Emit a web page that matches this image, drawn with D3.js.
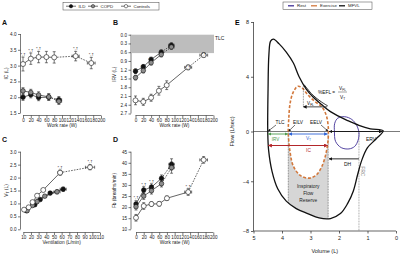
<!DOCTYPE html>
<html>
<head>
<meta charset="utf-8">
<script src="https://cdn.jsdelivr.net/npm/d3@7"></script>
<style>
  body { margin: 0; background: #fff; }
  svg { display: block; font-family: "Liberation Sans", Arial, sans-serif; }
</style>
</head>
<body>
<svg id="chart" width="400" height="257"></svg>
<script>
/* ---------- data: panels A-D ---------- */
// work rates (W)
var workDisease = [0, 20, 40, 66, 92];
var workControls = [0, 20, 40, 60, 80, 135, 175];

// A: inspiratory capacity (L)
var icILD = [2.0, 2.08, 1.99, 2.0, 1.92];
var icCOPD = [2.2, 2.15, 2.07, 2.01, 1.87];
var icControls = [3.05, 3.22, 3.27, 3.27, 3.26, 3.3, 3.08];
var icErrDisease = [0.1, 0.1, 0.1, 0.1, 0.1];
var icErrControls = [0.22, 0.18, 0.18, 0.18, 0.18, 0.15, 0.18];

// B: inspiratory reserve volume (L)
var irvILD = [1.25, 1.1, 0.85, 0.6, 0.36];
var irvCOPD = [1.47, 1.23, 0.96, 0.68, 0.42];
var irvControls = [2.25, 2.3, 2.16, 1.92, 1.73, 1.12, 0.7];
var irvErrDisease = [0.08, 0.08, 0.08, 0.08, 0.08];
var irvErrControls = [0.15, 0.12, 0.12, 0.15, 0.15, 0.08, 0.08];

// C: tidal volume vs ventilation
var veILD = [14, 25, 32, 45, 62];
var vtILD = [0.72, 0.95, 1.15, 1.4, 1.55];
var veCOPD = [15, 22, 28, 38, 54];
var vtCOPD = [0.72, 0.92, 1.07, 1.28, 1.45];
var veControls = [11, 17, 22, 28, 36, 58, 97];
var vtControls = [0.76, 0.85, 1.05, 1.3, 1.52, 2.19, 2.4];
var vtErr = [0.05, 0.05, 0.05, 0.05, 0.08];
var vtErrControls = [0.05, 0.05, 0.05, 0.05, 0.05, 0.1, 0.1];

// D: breathing frequency (breaths/min)
var fbILD = [21.4, 27.7, 29.0, 33.0, 39.3];
var fbCOPD = [20.2, 25.0, 27.4, 30.6, 37.8];
var fbControls = [15.2, 20.5, 21.4, 21.5, 24.0, 26.8, 41.3];
var fbErrDisease = [1.5, 1.5, 1.5, 1.5, 2.5];
var fbErrControls = [1.5, 1.5, 1, 1, 1, 1.5, 1.5];

var workTicks = [0, 20, 40, 60, 80, 100, 120, 140, 160, 180, 200];

/* ---------- data: panel E (volume L, flow L/sec) ---------- */
var mfvlCurve = [[4.5, 0], [4.49, 3], [4.46, 5.6], [4.4, 6.6], [4.3, 6.75], [4.1, 6.4], [3.85, 5.8],
  [3.6, 5.0], [3.4, 4.0], [3.15, 3.1], [2.9, 2.5], [2.6, 1.95], [2.3, 1.45], [2.0, 1.1], [1.7, 0.8],
  [1.3, 0.45], [0.9, 0.2], [0.45, 0.05], [0.7, -0.6], [1.0, -1.3], [1.2, -2.3], [1.35, -3.5],
  [1.5, -4.8], [1.7, -5.8], [1.95, -6.6], [2.3, -7.0], [2.7, -6.95], [3.1, -6.6], [3.5, -6.2],
  [3.85, -5.6], [4.15, -4.6], [4.35, -3.2], [4.47, -1.5]];
var exerciseLoop = [[3.78, 0], [3.76, 1.0], [3.72, 2.0], [3.62, 2.8], [3.45, 3.3], [3.3, 3.2],
  [3.1, 2.7], [2.85, 2.2], [2.6, 1.8], [2.45, 1.2], [2.38, 0.4], [2.38, -0.6], [2.45, -1.7],
  [2.6, -2.8], [2.8, -3.5], [3.05, -3.75], [3.35, -3.55], [3.6, -2.8], [3.72, -1.6]];
var restLoop = [[2.16, 0], [2.15, 0.6], [2.04, 0.98], [1.8, 1.08], [1.55, 0.88], [1.38, 0.45],
  [1.3, -0.1], [1.33, -0.7], [1.45, -1.2], [1.65, -1.4], [1.92, -1.3], [2.12, -0.8]];
var vflSegment = [[3.25, 3.3], [2.95, 2.55], [2.65, 2.05], [2.42, 1.75]];
var volTicks = [5, 4, 3, 2, 1, 0];
var flowTicks = [-8, -4, 0, 4, 8];
var tlcVol = 4.5, eilvVol = 3.78, eelvVol = 2.38, frcVol = 1.3, rvVol = 0.45;

/* ---------- setup ---------- */
var svg = d3.select('#chart');
var tickFont = 4.6;

var defs = svg.append('defs');
function arrowMarker(id, color) {
    defs.append('marker')
        .attr('id', id)
        .attr('viewBox', '0 0 10 10')
        .attr('refX', 9).attr('refY', 5)
        .attr('markerWidth', 4).attr('markerHeight', 4)
        .attr('orient', 'auto-start-reverse')
        .append('path')
            .attr('d', 'M0,0 L10,5 L0,10 z')
            .attr('fill', color);
}
arrowMarker('arr-black', '#111');
arrowMarker('arr-green', '#4c9a4c');
arrowMarker('arr-blue', '#2d63d6');
arrowMarker('arr-red', '#b3262a');

/* ---------- panels A-D ---------- */
function drawPanel(cfg) {
    var g = svg.append('g');
    var x = d3.scaleLinear().domain(cfg.xDomain).range(cfg.xRange);
    var y = d3.scaleLinear().domain(cfg.yDomain).range(cfg.yRange);

    // y axis (offset a bit to the left, prism style)
    var yAxis = g.append('g')
        .attr('transform', 'translate(' + cfg.yAxisX + ',0)')
        .call(d3.axisLeft(y).tickValues(cfg.yTicks).tickFormat(cfg.yFormat).tickSize(2.5).tickPadding(1.5));
    // x axis
    var xAxis = g.append('g')
        .attr('transform', 'translate(0,' + cfg.xAxisY + ')')
        .call(d3.axisBottom(x).tickValues(cfg.xTicks).tickFormat(d3.format('d')).tickSize(2.5).tickPadding(1));
    [xAxis, yAxis].forEach(function (a) {
        a.selectAll('path').attr('stroke', '#222').attr('stroke-width', 0.6);
        a.selectAll('line').attr('stroke', '#222').attr('stroke-width', 0.6);
        a.selectAll('text').attr('font-size', tickFont).attr('fill', '#222');
    });
    xAxis.select('.domain').attr('d', 'M' + x(cfg.xTicks[0]) + ',0H' + x(cfg.xTicks[cfg.xTicks.length - 1]));
    yAxis.select('.domain').attr('d', 'M0,' + y(cfg.yTicks[0]) + 'V' + y(cfg.yTicks[cfg.yTicks.length - 1]));

    // optional shaded band (TLC)
    if (cfg.band) {
        g.append('rect')
            .attr('x', cfg.yAxisX + 0.5)
            .attr('y', Math.min(y(cfg.band[0]), y(cfg.band[1])))
            .attr('width', x(200) - cfg.yAxisX)
            .attr('height', Math.abs(y(cfg.band[1]) - y(cfg.band[0])))
            .attr('fill', '#bdbdbd');
        g.append('text').attr('x', x(200) + 1.5).attr('y', y(cfg.band[0]) + 5)
            .attr('font-size', 5).attr('fill', '#222').text('TLC');
    }

    // axis titles
    g.append('text')
        .attr('transform', 'translate(' + cfg.yLabelX + ',' + ((cfg.yRange[0] + cfg.yRange[1]) / 2) + ') rotate(-90)')
        .attr('text-anchor', 'middle').attr('font-size', 4.8).attr('fill', '#222')
        .html(cfg.yLabel);
    g.append('text')
        .attr('x', (cfg.xRange[0] + cfg.xRange[1]) / 2).attr('y', cfg.xAxisY + 11.5)
        .attr('text-anchor', 'middle').attr('font-size', 4.8).attr('fill', '#222')
        .text(cfg.xLabel);
    g.append('text')
        .attr('x', cfg.letterX).attr('y', cfg.letterY)
        .attr('font-size', 7).attr('font-weight', 'bold').attr('fill', '#111')
        .text(cfg.letter);

    // series
    cfg.series.forEach(function (s) {
        var pts = s.xs.map(function (v, i) {
            return {x: v, y: s.ys[i], e: s.err[i], xe: (s.xerr && s.xerr[i]) || 0, i: i};
        });
        // error bars
        pts.forEach(function (p) {
            g.append('line')
                .attr('x1', x(p.x)).attr('x2', x(p.x))
                .attr('y1', y(p.y - p.e)).attr('y2', y(p.y + p.e))
                .attr('stroke', '#222').attr('stroke-width', 0.6);
            [p.y - p.e, p.y + p.e].forEach(function (v) {
                g.append('line')
                    .attr('x1', x(p.x) - 1.5).attr('x2', x(p.x) + 1.5)
                    .attr('y1', y(v)).attr('y2', y(v))
                    .attr('stroke', '#222').attr('stroke-width', 0.6);
            });
            if (p.xe) {
                g.append('line')
                    .attr('x1', x(p.x - p.xe)).attr('x2', x(p.x + p.xe))
                    .attr('y1', y(p.y)).attr('y2', y(p.y))
                    .attr('stroke', '#222').attr('stroke-width', 0.6);
                [p.x - p.xe, p.x + p.xe].forEach(function (v) {
                    g.append('line')
                        .attr('x1', x(v)).attr('x2', x(v))
                        .attr('y1', y(p.y) - 1.5).attr('y2', y(p.y) + 1.5)
                        .attr('stroke', '#222').attr('stroke-width', 0.6);
                });
            }
        });
        // connecting lines, dashed from s.dashFrom on
        for (var i = 0; i < pts.length - 1; i++) {
            g.append('line')
                .attr('x1', x(pts[i].x)).attr('y1', y(pts[i].y))
                .attr('x2', x(pts[i + 1].x)).attr('y2', y(pts[i + 1].y))
                .attr('stroke', '#222').attr('stroke-width', 0.7)
                .attr('stroke-dasharray', i >= s.dashFrom ? '1.6,1.2' : null);
        }
        // markers
        g.selectAll(null).data(pts).enter()
            .append('circle')
                .attr('cx', function (d) { return x(d.x); })
                .attr('cy', function (d) { return y(d.y); })
                .attr('r', s.fill === colCtl ? 2.5 : 2.3)
                .attr('fill', s.fill)
                .attr('stroke', '#111').attr('stroke-width', 0.6);
        // significance marks
        (s.stars || []).forEach(function (i) {
            var p = pts[i];
            var top = cfg.yDomain[0] < cfg.yDomain[1] ? y(p.y + p.e) : y(p.y - p.e);
            g.append('text')
                .attr('x', x(p.x)).attr('y', top - 1.2)
                .attr('text-anchor', 'middle').attr('font-size', 4.2).attr('fill', '#222')
                .text('*,\u2020');
        });
    });
}

var colILD = '#111', colCOPD = '#8c8c8c', colCtl = '#fff';

drawPanel({
    letter: 'A', letterX: 2, letterY: 25,
    xDomain: [0, 200], xRange: [23, 101], xTicks: workTicks, xAxisY: 115.5,
    yDomain: [1.5, 4.0], yRange: [113, 34], yTicks: [1.5, 2.0, 2.5, 3.0, 3.5, 4.0],
    yFormat: d3.format('.1f'), yAxisX: 20.5, yLabelX: 8, yLabel: 'IC (L)', xLabel: 'Work rate (W)',
    series: [
        {xs: workDisease, ys: icILD, err: icErrDisease, xerr: [0, 0, 0, 0, 7], fill: colILD, dashFrom: 3},
        {xs: workDisease, ys: icCOPD, err: icErrDisease, xerr: [0, 0, 0, 0, 7], fill: colCOPD, dashFrom: 3},
        {xs: workControls, ys: icControls, err: icErrControls, xerr: [0, 0, 0, 0, 0, 9, 10], fill: colCtl, dashFrom: 4, stars: [0, 1, 2, 5, 6]}
    ]
});

drawPanel({
    letter: 'B', letterX: 113, letterY: 25,
    xDomain: [0, 200], xRange: [135.5, 213.5], xTicks: workTicks, xAxisY: 115.5,
    yDomain: [0, 2.7], yRange: [34.7, 113.5], yTicks: [0, 0.3, 0.6, 0.9, 1.2, 1.5, 1.8, 2.1, 2.4, 2.7],
    yFormat: d3.format('.1f'), yAxisX: 131, yLabelX: 116, yLabel: 'IRV (L)', xLabel: 'Work rate (W)',
    band: [0, 0.63],
    series: [
        {xs: workDisease, ys: irvILD, err: irvErrDisease, xerr: [0, 0, 0, 0, 7], fill: colILD, dashFrom: 3, stars: [0, 1, 2]},
        {xs: workDisease, ys: irvCOPD, err: irvErrDisease, xerr: [0, 0, 0, 0, 7], fill: colCOPD, dashFrom: 3},
        {xs: workControls, ys: irvControls, err: irvErrControls, xerr: [0, 0, 0, 0, 0, 9, 10], fill: colCtl, dashFrom: 5, stars: [5, 6]}
    ]
});

drawPanel({
    letter: 'C', letterX: 2, letterY: 142,
    xDomain: [10, 110], xRange: [23.3, 100], xTicks: [10, 20, 30, 40, 50, 60, 70, 80, 90, 100, 110], xAxisY: 232.5,
    yDomain: [0, 3.0], yRange: [229.3, 151.7], yTicks: [0, 0.5, 1.0, 1.5, 2.0, 2.5, 3.0],
    yFormat: d3.format('.1f'), yAxisX: 20.5, yLabelX: 8, yLabel: 'V<tspan font-size="3.4" dy="1">T</tspan><tspan dy="-1"> (L)</tspan>',
    xLabel: 'Ventilation (L/min)',
    series: [
        {xs: veILD, ys: vtILD, err: vtErr, xerr: [0, 0, 0, 0, 4], fill: colILD, dashFrom: 9},
        {xs: veCOPD, ys: vtCOPD, err: vtErr, xerr: [0, 0, 0, 0, 4], fill: colCOPD, dashFrom: 9},
        {xs: veControls, ys: vtControls, err: vtErrControls, xerr: [0, 0, 0, 0, 0, 3, 6], fill: colCtl, dashFrom: 5, stars: [5, 6]}
    ]
});

drawPanel({
    letter: 'D', letterX: 113, letterY: 142,
    xDomain: [0, 200], xRange: [136, 213.3], xTicks: workTicks, xAxisY: 232.5,
    yDomain: [10, 45], yRange: [229.3, 151.7], yTicks: [10, 15, 20, 25, 30, 35, 40, 45],
    yFormat: d3.format('d'), yAxisX: 131, yLabelX: 116, yLabel: 'Fb (breaths/min)', xLabel: 'Work rate (W)',
    series: [
        {xs: workDisease, ys: fbILD, err: fbErrDisease, xerr: [0, 0, 0, 0, 7], fill: colILD, dashFrom: 3, stars: [0, 1, 2]},
        {xs: workDisease, ys: fbCOPD, err: fbErrDisease, xerr: [0, 0, 0, 0, 7], fill: colCOPD, dashFrom: 3},
        {xs: workControls, ys: fbControls, err: fbErrControls, xerr: [0, 0, 0, 0, 0, 9, 10], fill: colCtl, dashFrom: 5, stars: [5]}
    ]
});

// legend for A-D
var leg = svg.append('g');
leg.append('rect').attr('x', 63).attr('y', 2.5).attr('width', 96).attr('height', 7.5)
    .attr('fill', '#fff').attr('stroke', '#444').attr('stroke-width', 0.5);
[{x: 66, label: 'ILD', fill: colILD}, {x: 88, label: 'COPD', fill: colCOPD}, {x: 121, label: 'Controls', fill: colCtl}]
    .forEach(function (it) {
        leg.append('line').attr('x1', it.x).attr('x2', it.x + 10).attr('y1', 6.2).attr('y2', 6.2)
            .attr('stroke', '#111').attr('stroke-width', 0.6);
        leg.append('circle').attr('cx', it.x + 5).attr('cy', 6.2).attr('r', 1.7)
            .attr('fill', it.fill).attr('stroke', '#111').attr('stroke-width', 0.5);
        leg.append('text').attr('x', it.x + 12.5).attr('y', 7.8).attr('font-size', 4.4).attr('fill', '#222').text(it.label);
    });

/* ---------- panel E ---------- */
var ex = d3.scaleLinear().domain([5, 0]).range([253.5, 396]);
var ey = d3.scaleLinear().domain([-8, 0, 8]).range([231, 131.5, 22]);
var gE = svg.append('g');

var loopLine = d3.line()
    .x(function (d) { return ex(d[0]); })
    .y(function (d) { return ey(d[1]); })
    .curve(d3.curveCatmullRomClosed.alpha(0.5));
var openLine = d3.line()
    .x(function (d) { return ex(d[0]); })
    .y(function (d) { return ey(d[1]); })
    .curve(d3.curveCatmullRom.alpha(0.5));

defs.append('clipPath').attr('id', 'mfvl-clip')
    .append('path').attr('d', loopLine(mfvlCurve));

// inspiratory flow reserve (gray)
gE.append('rect')
    .attr('clip-path', 'url(#mfvl-clip)')
    .attr('x', ex(eilvVol)).attr('y', ey(0))
    .attr('width', ex(eelvVol) - ex(eilvVol)).attr('height', ey(-8) - ey(0))
    .attr('fill', '#d6d6d6');
gE.append('path').attr('d', loopLine(exerciseLoop)).attr('fill', '#fff');

// dotted verticals
[eilvVol, eelvVol].forEach(function (v) {
    gE.append('line').attr('clip-path', 'url(#mfvl-clip)')
        .attr('x1', ex(v)).attr('x2', ex(v)).attr('y1', ey(0)).attr('y2', ey(-8))
        .attr('stroke', '#333').attr('stroke-width', 0.6).attr('stroke-dasharray', '0.8,0.8');
});
gE.append('line')
    .attr('x1', ex(frcVol)).attr('x2', ex(frcVol)).attr('y1', ey(0)).attr('y2', ey(-8))
    .attr('stroke', '#555').attr('stroke-width', 0.6).attr('stroke-dasharray', '0.8,0.8');
gE.append('text')
    .attr('transform', 'translate(' + (ex(frcVol) + 2.5) + ',' + ey(-3.2) + ') rotate(90)')
    .attr('text-anchor', 'middle').attr('font-size', 5).attr('fill', '#888').text('FRC');

// axes
var eyAxis = gE.append('g').attr('transform', 'translate(' + ex(5) + ',0)')
    .call(d3.axisLeft(ey).tickValues(flowTicks).tickFormat(d3.format('d')).tickSize(2.5).tickPadding(2));
var exAxis = gE.append('g').attr('transform', 'translate(0,' + ey(-8) + ')')
    .call(d3.axisBottom(ex).tickValues(volTicks).tickFormat(d3.format('d')).tickSize(2.5).tickPadding(2.5));
[eyAxis, exAxis].forEach(function (a) {
    a.selectAll('path,line').attr('stroke', '#222').attr('stroke-width', 0.7);
    a.selectAll('text').attr('font-size', 5.5).attr('fill', '#222');
});
eyAxis.select('.domain').attr('d', 'M0,' + ey(-8) + 'V' + ey(8));
exAxis.select('.domain').attr('d', 'M' + ex(5) + ',0H' + ex(0));
gE.append('line').attr('x1', ex(5)).attr('x2', 400).attr('y1', ey(0)).attr('y2', ey(0))
    .attr('stroke', '#222').attr('stroke-width', 0.6);

gE.append('text').attr('x', 235).attr('y', 25).attr('font-size', 7).attr('font-weight', 'bold').text('E');
gE.append('text').attr('transform', 'translate(234,' + ey(0) + ') rotate(-90)')
    .attr('text-anchor', 'middle').attr('font-size', 5.5).attr('fill', '#222').text('Flow (L/sec)');
gE.append('text').attr('x', ex(2.5)).attr('y', 253)
    .attr('text-anchor', 'middle').attr('font-size', 5.5).attr('fill', '#222').text('Volume (L)');

// loops
gE.append('path').attr('d', loopLine(restLoop))
    .attr('fill', 'none').attr('stroke', '#3f2f96').attr('stroke-width', 0.9);
gE.append('path').attr('d', loopLine(exerciseLoop))
    .attr('fill', 'none').attr('stroke', '#d2783c').attr('stroke-width', 1.6).attr('stroke-dasharray', '3,1.8');
gE.append('path').attr('d', loopLine(mfvlCurve))
    .attr('fill', 'none').attr('stroke', '#111').attr('stroke-width', 1.3);

// flow limited segment
gE.append('path').attr('d', openLine(vflSegment))
    .attr('transform', 'translate(0.8,-1.6)')
    .attr('fill', 'none').attr('stroke', '#111').attr('stroke-width', 0.9);
gE.append('line')
    .attr('x1', ex(3.25)).attr('x2', ex(3.25)).attr('y1', ey(3.3)).attr('y2', ey(1.8))
    .attr('stroke', '#333').attr('stroke-width', 0.6).attr('stroke-dasharray', '0.8,0.8');
gE.append('line')
    .attr('x1', ex(2.42)).attr('x2', ex(3.25)).attr('y1', ey(1.8)).attr('y2', ey(1.8))
    .attr('stroke', '#333').attr('stroke-width', 0.9).attr('marker-end', 'url(#arr-black)');
gE.append('text').attr('x', ex(3.0)).attr('y', ey(1.8) - 1.5).attr('text-anchor', 'middle')
    .attr('font-size', 4.6).html('V<tspan font-size="3.2" dy="1">FL</tspan>');
var efl = gE.append('g').attr('font-size', 4.8).attr('fill', '#111');
efl.append('text').attr('x', 318).attr('y', 93.5).text('%EFL =');
efl.append('text').attr('x', 339).attr('y', 90).html('V<tspan font-size="3.2" dy="1">FL</tspan>');
efl.append('text').attr('x', 340).attr('y', 98.5).html('V<tspan font-size="3.2" dy="1">T</tspan>');
efl.append('line').attr('x1', 338).attr('x2', 347).attr('y1', 92).attr('y2', 92).attr('stroke', '#111').attr('stroke-width', 0.4);

// volume labels with arrows
function arrow(x1, y1, x2, y2, marker, color, both, w) {
    gE.append('line').attr('x1', x1).attr('y1', y1).attr('x2', x2).attr('y2', y2)
        .attr('stroke', color).attr('stroke-width', w || 0.8)
        .attr('marker-end', 'url(#' + marker + ')')
        .attr('marker-start', both ? 'url(#' + marker + ')' : null);
}
function label(x, y, txt, color, size) {
    return gE.append('text').attr('x', x).attr('y', y).attr('text-anchor', 'middle')
        .attr('font-size', size || 4.8).attr('fill', color || '#111').html(txt);
}
label(280, 123.5, 'TLC');
label(298, 123.5, 'EILV');
label(316, 123.5, 'EELV');
arrow(276, 125, ex(tlcVol) + 0.5, ey(0) - 0.5, 'arr-black', '#111', false, 0.6);
arrow(295, 125, ex(eilvVol) + 0.5, ey(0) - 0.5, 'arr-black', '#111', false, 0.6);
arrow(321, 125, ex(eelvVol) - 0.3, ey(0) - 0.5, 'arr-black', '#111', false, 0.6);

arrow(ex(tlcVol) + 0.5, ey(0) + 2.5, ex(eilvVol) - 0.5, ey(0) + 2.5, 'arr-green', '#4c9a4c', true, 0.9);
label(275.5, 140.5, 'IRV', '#4c9a4c', 4.6);
arrow(ex(eilvVol) + 0.8, ey(0) + 2.5, ex(eelvVol) - 0.8, ey(0) + 2.5, 'arr-blue', '#2d63d6', true, 0.9);
label(308.5, 140, 'V<tspan font-size="3.3" dy="1">T</tspan>', '#2d63d6', 4.8);
arrow(ex(tlcVol) + 0.5, ey(0) + 14, ex(eelvVol) - 0.5, ey(0) + 14, 'arr-red', '#b3262a', true, 1.0);
label(308.5, 152, 'IC', '#b3262a', 4.8);
arrow(ex(eelvVol) + 1, ey(0), ex(rvVol) - 1, ey(0), 'arr-black', '#111', true, 0.9);
label(371, 140.5, 'ERV', '#111', 5);
arrow(ex(frcVol), ey(-2.2), ex(eelvVol) + 0.8, ey(-2.2), 'arr-black', '#111', false, 0.9);
label(347.5, 166, 'DH', '#111', 5);

var ifr = gE.append('g').attr('font-size', 4.8).attr('fill', '#222').attr('text-anchor', 'middle');
['Inspiratory', 'Flow', 'Reserve'].forEach(function (t, i) {
    ifr.append('text').attr('x', ex(3.08)).attr('y', 188 + i * 6.8).text(t);
});

// legend E
var legE = svg.append('g');
legE.append('rect').attr('x', 283).attr('y', 2).attr('width', 89).attr('height', 7.5)
    .attr('fill', '#fff').attr('stroke', '#444').attr('stroke-width', 0.5);
[{x: 288, label: 'Rest', color: '#3f2f96'}, {x: 311, label: 'Exercise', color: '#d2783c'}, {x: 339, label: 'MFVL', color: '#111'}]
    .forEach(function (it) {
        legE.append('line').attr('x1', it.x).attr('x2', it.x + 6).attr('y1', 5.8).attr('y2', 5.8)
            .attr('stroke', it.color).attr('stroke-width', 1.3);
        legE.append('text').attr('x', it.x + 9).attr('y', 7.4).attr('font-size', 4.4).attr('fill', '#222').text(it.label);
    });
</script>
</body>
</html>
